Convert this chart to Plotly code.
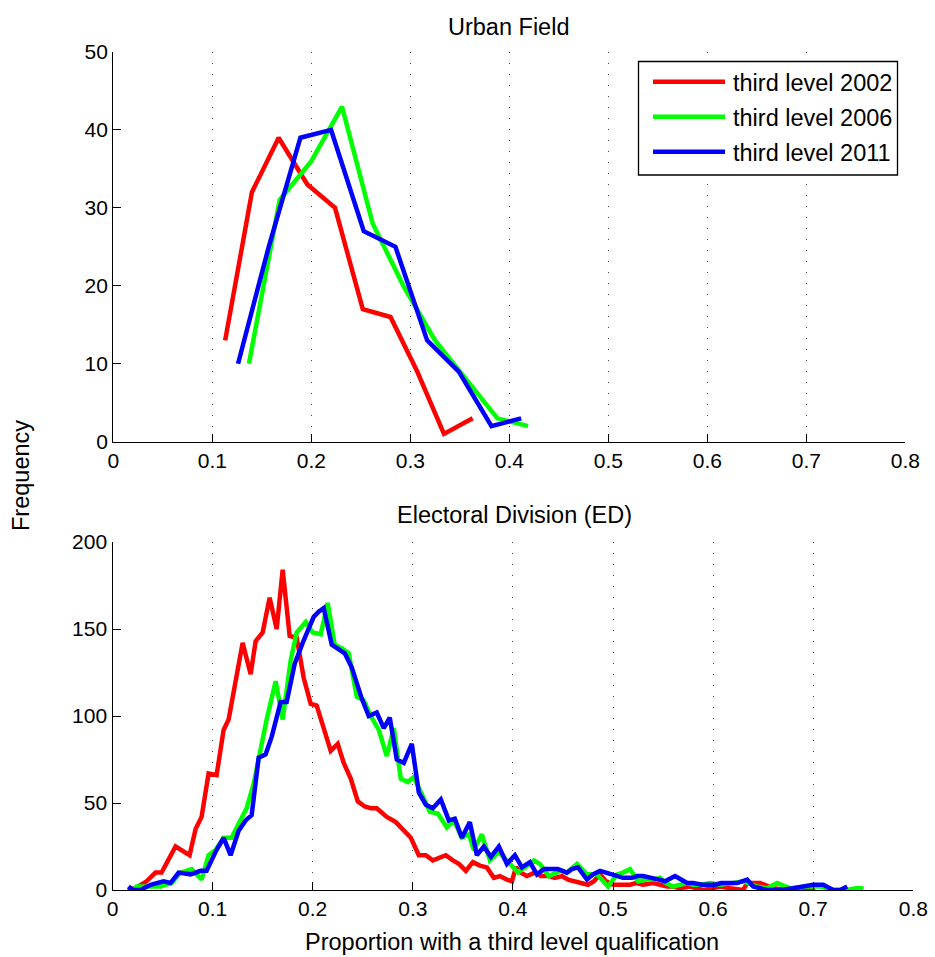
import plotly.graph_objects as go

# ---------------- Urban Field (top panel) ----------------
uf_2002_x = [0.113, 0.140, 0.167, 0.196, 0.224, 0.252, 0.280, 0.307, 0.334, 0.363]
uf_2002_y = [13, 32, 39, 33, 30, 17, 16, 9, 1, 3]
uf_2006_x = [0.137, 0.168, 0.200, 0.231, 0.262, 0.293, 0.325, 0.356, 0.388, 0.419]
uf_2006_y = [10, 31, 36, 43, 28, 20, 13, 8, 3, 2]
uf_2011_x = [0.126, 0.157, 0.189, 0.220, 0.253, 0.285, 0.317, 0.349, 0.382, 0.412]
uf_2011_y = [10, 25, 39, 40, 27, 25, 13, 9, 2, 3]

# ---------------- Electoral Division (bottom panel) ----------------
ed_2002_x = [0.015, 0.023, 0.034, 0.043, 0.049, 0.063, 0.077, 0.083, 0.089, 0.096,
             0.104, 0.111, 0.116, 0.123, 0.130, 0.138, 0.143, 0.150, 0.157, 0.164,
             0.170, 0.177, 0.184, 0.191, 0.198, 0.204, 0.211, 0.218, 0.225, 0.231,
             0.238, 0.245, 0.252, 0.258, 0.264, 0.274, 0.283, 0.291, 0.298, 0.306,
             0.313, 0.320, 0.327, 0.333, 0.340, 0.346, 0.353, 0.360, 0.367, 0.374,
             0.381, 0.387, 0.394, 0.399, 0.403, 0.408, 0.414, 0.422, 0.428, 0.436,
             0.442, 0.449, 0.455, 0.462, 0.469, 0.475, 0.481, 0.487, 0.493, 0.500,
             0.507, 0.517, 0.523, 0.530, 0.540, 0.547, 0.554, 0.560, 0.567, 0.577,
             0.590, 0.600, 0.607, 0.617, 0.630, 0.634, 0.640, 0.647, 0.660, 0.674,
             0.682, 0.692, 0.702]
ed_2002_y = [0, 1, 5, 10, 10, 25, 20, 35, 42, 67,
             66, 92, 98, 121, 142, 124, 143, 148, 168, 150,
             184, 146, 145, 122, 107, 106, 94, 80, 84, 73,
             64, 51, 48, 47, 47, 42, 39, 34, 30, 20,
             20, 17, 19, 20, 17, 15, 11, 16, 14, 13,
             7, 8, 6, 5, 13, 10, 8, 10, 8, 8,
             7, 8, 6, 5, 4, 3, 5, 9, 5, 3,
             3, 3, 4, 3, 4, 3, 2, 2, 1, 2,
             0, 1, 2, 1, 0, 4, 4, 4, 1, 0,
             1, 0, 1]

ed_2006_x = [0.021, 0.024, 0.034, 0.048, 0.059, 0.068, 0.079, 0.089, 0.096, 0.103,
             0.111, 0.119, 0.126, 0.134, 0.141, 0.148, 0.154, 0.163, 0.170, 0.178,
             0.184, 0.193, 0.200, 0.208, 0.215, 0.222, 0.229, 0.236, 0.244, 0.251,
             0.258, 0.266, 0.274, 0.281, 0.288, 0.295, 0.301, 0.309, 0.317, 0.325,
             0.334, 0.341, 0.349, 0.356, 0.361, 0.369, 0.377, 0.386, 0.394, 0.405,
             0.412, 0.421, 0.427, 0.436, 0.447, 0.454, 0.464, 0.474, 0.484, 0.495,
             0.504, 0.510, 0.517, 0.525, 0.534, 0.540, 0.547, 0.553, 0.560, 0.567,
             0.574, 0.580, 0.587, 0.597, 0.607, 0.620, 0.630, 0.644, 0.654, 0.664,
             0.677, 0.694, 0.707, 0.720, 0.733, 0.743, 0.750]
ed_2006_y = [0, 2, 2, 2, 4, 10, 12, 6, 20, 23,
             30, 30, 38, 47, 61, 82, 98, 120, 98, 132,
             148, 154, 148, 147, 165, 141, 139, 136, 111, 109,
             100, 92, 77, 93, 64, 62, 65, 55, 45, 44,
             36, 40, 30, 32, 23, 32, 17, 22, 17, 10,
             13, 17, 15, 8, 11, 10, 15, 9, 9, 2,
             9, 10, 12, 5, 6, 6, 7, 4, 2, 3,
             4, 3, 3, 4, 3, 4, 5, 2, 1, 4,
             1, 2, 2, 0, 0, 1, 1]

ed_2011_x = [0.016, 0.021, 0.028, 0.038, 0.051, 0.058, 0.066, 0.078, 0.088, 0.094,
             0.103, 0.111, 0.118, 0.126, 0.133, 0.139, 0.146, 0.153, 0.159, 0.168,
             0.174, 0.182, 0.190, 0.198, 0.201, 0.206, 0.211, 0.219, 0.226, 0.232,
             0.239, 0.244, 0.249, 0.256, 0.264, 0.271, 0.277, 0.284, 0.291, 0.299,
             0.306, 0.313, 0.320, 0.328, 0.336, 0.342, 0.349, 0.357, 0.364, 0.371,
             0.378, 0.386, 0.394, 0.402, 0.409, 0.417, 0.424, 0.431, 0.438, 0.445,
             0.454, 0.459, 0.465, 0.474, 0.480, 0.487, 0.493, 0.500, 0.510, 0.519,
             0.524, 0.530, 0.540, 0.546, 0.552, 0.562, 0.568, 0.574, 0.580, 0.589,
             0.595, 0.602, 0.608, 0.614, 0.624, 0.634, 0.640, 0.647, 0.654, 0.660,
             0.667, 0.680, 0.690, 0.700, 0.710, 0.720, 0.727, 0.734]
ed_2011_y = [2, 0, 0, 3, 5, 4, 10, 9, 11, 11,
             22, 30, 20, 34, 40, 43, 76, 78, 88, 108,
             108, 130, 142, 152, 157, 160, 162, 141, 138, 136,
             128, 119, 110, 100, 102, 93, 99, 75, 73, 84,
             56, 49, 47, 52, 40, 41, 30, 39, 20, 25,
             19, 25, 15, 20, 13, 16, 9, 12, 12, 12,
             10, 12, 13, 6, 9, 11, 10, 9, 7, 7,
             8, 8, 7, 6, 5, 8, 6, 4, 4, 3,
             3, 3, 4, 4, 4, 6, 2, 1, 0, 0,
             0, 1, 2, 3, 3, 0, 0, 2]

series_names = ["third level 2002", "third level 2006", "third level 2011"]
series_colors = ["#ff0000", "#00ff00", "#0000ff"]
x_ticks = [0, 0.1, 0.2, 0.3, 0.4, 0.5, 0.6, 0.7, 0.8]
x_tick_labels = ["0", "0.1", "0.2", "0.3", "0.4", "0.5", "0.6", "0.7", "0.8"]
top_y_ticks = [0, 10, 20, 30, 40, 50]
bottom_y_ticks = [0, 50, 100, 150, 200]

FONT = "Liberation Sans, Arial, Helvetica, sans-serif"
LW = 4.5
W, H = 935, 957

fig = go.Figure()
top = [(uf_2002_x, uf_2002_y), (uf_2006_x, uf_2006_y), (uf_2011_x, uf_2011_y)]
bot = [(ed_2002_x, ed_2002_y), (ed_2006_x, ed_2006_y), (ed_2011_x, ed_2011_y)]
for i, (xs, ys) in enumerate(top):
    fig.add_trace(go.Scatter(x=xs, y=ys, mode="lines", name=series_names[i],
                             line=dict(color=series_colors[i], width=LW),
                             xaxis="x", yaxis="y", showlegend=False))
for i, (xs, ys) in enumerate(bot):
    fig.add_trace(go.Scatter(x=xs, y=ys, mode="lines", name=series_names[i],
                             line=dict(color=series_colors[i], width=LW),
                             xaxis="x2", yaxis="y2", showlegend=False))

common_x = dict(range=[0, 0.8], tickvals=x_ticks, ticktext=x_tick_labels,
                showline=True, linecolor="black", linewidth=1.3,
                ticks="inside", ticklen=8, tickcolor="black", tickwidth=1,
                showgrid=True, gridcolor="#444444", griddash="1px,10px", gridwidth=1,
                zeroline=False, mirror=False, automargin=False,
                tickfont=dict(family=FONT, size=21, color="black"))
common_y = dict(showline=True, linecolor="black", linewidth=1.3,
                ticks="inside", ticklen=8, tickcolor="black", tickwidth=1,
                showgrid=False, zeroline=False, mirror=False, automargin=False,
                tickfont=dict(family=FONT, size=21, color="black"))

TF = dict(family=FONT, size=23.5, color="black")

# legend drawn in the MATLAB style (long key lines), in pixel-derived paper coords
def px(x):
    return x / W

def py(y):
    return 1 - y / H

shapes = [dict(type="rect", xref="paper", yref="paper",
               x0=px(638.5), x1=px(897.5), y0=py(175), y1=py(61.5),
               line=dict(color="black", width=1.3), fillcolor="white", layer="above")]
annotations = []
row_y = [81.7, 116.7, 151.7]
for i, name in enumerate(series_names):
    shapes.append(dict(type="line", xref="paper", yref="paper",
                       x0=px(653), x1=px(725), y0=py(row_y[i]), y1=py(row_y[i]),
                       line=dict(color=series_colors[i], width=LW), layer="above"))
    annotations.append(dict(text=name, x=px(731), y=py(row_y[i] + 1.5), xref="paper", yref="paper",
                            xanchor="left", yanchor="middle", showarrow=False, font=TF))

annotations += [
    dict(text="Urban Field", x=px(508), y=py(27), xref="paper", yref="paper",
         xanchor="center", yanchor="middle", showarrow=False, font=TF),
    dict(text="Electoral Division (ED)", x=px(514), y=py(515), xref="paper", yref="paper",
         xanchor="center", yanchor="middle", showarrow=False, font=TF),
    dict(text="Frequency", x=px(21), y=py(476), xref="paper", yref="paper",
         xanchor="center", yanchor="middle", showarrow=False, textangle=-90, font=TF),
    dict(text="Proportion with a third level qualification", x=px(512), y=py(942),
         xref="paper", yref="paper", xanchor="center", yanchor="middle",
         showarrow=False, font=TF),
]

fig.update_layout(
    width=W, height=H,
    margin=dict(l=0, r=0, t=0, b=0, autoexpand=False),
    paper_bgcolor="white", plot_bgcolor="white",
    font=dict(family=FONT, color="black"),
    xaxis=dict(domain=[113.3 / W, 905.3 / W], anchor="y", **common_x),
    yaxis=dict(domain=[1 - 441.7 / H, 1 - 52 / H], anchor="x", range=[0, 50],
               tickvals=top_y_ticks, **common_y),
    xaxis2=dict(domain=[112.5 / W, 913.3 / W], anchor="y2", **common_x),
    yaxis2=dict(domain=[1 - 890 / H, 1 - 542 / H], anchor="x2", range=[0, 200],
                tickvals=bottom_y_ticks, **common_y),
    showlegend=False,
    shapes=shapes,
    annotations=annotations,
)

fig.write_html("out.html")
